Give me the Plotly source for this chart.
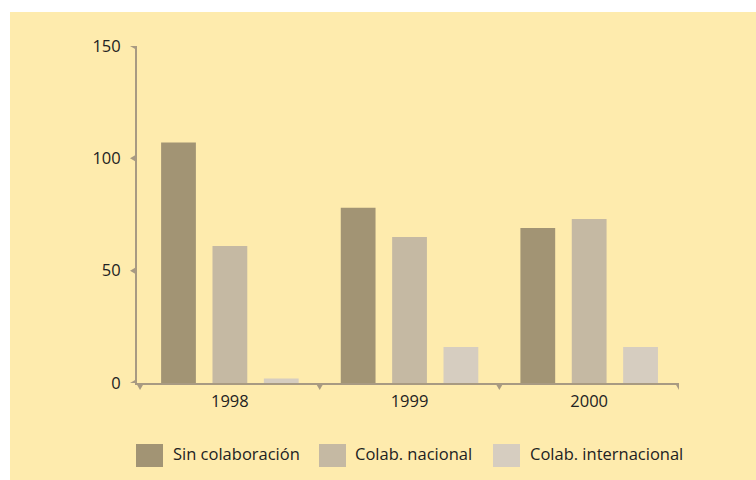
import plotly.graph_objects as go

years = ["1998", "1999", "2000"]
series_names = ["Sin colaboración", "Colab. nacional", "Colab. internacional"]
sin_colab = [107, 78, 69]
colab_nac = [61, 65, 73]
colab_int = [2, 16, 16]
y_ticks = [0, 50, 100, 150]

colors = ["#a29474", "#c5b9a3", "#d6cdc0"]
axis_col = "#a89a82"
bg = "#feebad"
txt = "#222222"
FONT = "Open Sans"
FS = 16.5

fig = go.Figure()
for name, vals, c in zip(series_names, [sin_colab, colab_nac, colab_int], colors):
    fig.add_trace(go.Bar(x=list(range(len(years))), y=vals, name=name,
                         marker=dict(color=c, line=dict(width=0)), showlegend=False))

L, R, T, B = 137, 77, 46, 97
W, H = 756, 480
pw, ph = W - L - R, H - T - B

shapes = []
# background panel
shapes.append(dict(type="rect", xref="paper", yref="paper",
                   x0=(10 - L) / pw, x1=(W + 2 - L) / pw,
                   y0=(T + ph - H - 2) / ph, y1=(T + ph - 12) / ph,
                   fillcolor=bg, line=dict(width=0), layer="below"))
# y-axis triangle ticks
for v in y_ticks:
    shapes.append(dict(type="path", xref="paper", yref="y", xanchor=0, yanchor=v,
                       xsizemode="pixel", ysizemode="pixel",
                       path="M -1,-3.5 L -1,3.5 L -7,0 Z", fillcolor=axis_col,
                       line=dict(width=0)))
# x-axis triangle ticks at category boundaries
for b in [-0.5, 0.5, 1.5, 2.5]:
    shapes.append(dict(type="path", xref="x", yref="paper", xanchor=b, yanchor=0,
                       xsizemode="pixel", ysizemode="pixel",
                       path="M -3.5,-1 L 3.5,-1 L 0,-7 Z", fillcolor=axis_col,
                       line=dict(width=0)))

# legend (manual, large swatches)
annotations = []
leg = [(136, 171), (319, 353), (493, 528)]
ly0, ly1 = 444, 467
for (sx, tx), name, c in zip(leg, series_names, colors):
    shapes.append(dict(type="rect", xref="paper", yref="paper",
                       x0=(sx - L) / pw, x1=(sx + 27 - L) / pw,
                       y0=(T + ph - ly1) / ph, y1=(T + ph - ly0) / ph,
                       fillcolor=c, line=dict(width=0)))
    annotations.append(dict(text=name, xref="paper", yref="paper",
                            x=(tx - L) / pw, y=(T + ph - 453) / ph,
                            xanchor="left", yanchor="middle", showarrow=False,
                            font=dict(family=FONT, size=FS, color=txt)))

fig.update_layout(
    width=W, height=H,
    margin=dict(l=L, r=R, t=T, b=B),
    paper_bgcolor="white", plot_bgcolor="rgba(0,0,0,0)",
    barmode="group", bargap=0.142, bargroupgap=0.323,
    font=dict(family=FONT, size=FS, color=txt),
    showlegend=False,
    shapes=shapes, annotations=annotations,
    xaxis=dict(range=[-0.517, 2.5], tickvals=[0, 1, 2], ticktext=years,
               showline=True, linecolor=axis_col, linewidth=2,
               showgrid=False, zeroline=False, ticks="", ticklabelstandoff=2,
               fixedrange=True),
    yaxis=dict(range=[0, 150], tickvals=y_ticks, showline=True,
               linecolor=axis_col, linewidth=2, showgrid=False, zeroline=False,
               ticks="", ticklabelstandoff=11, fixedrange=True),
)

fig.write_html("out.html", config={"displayModeBar": False},
               post_script="document.body.style.margin='0';document.body.style.overflow='hidden';")
